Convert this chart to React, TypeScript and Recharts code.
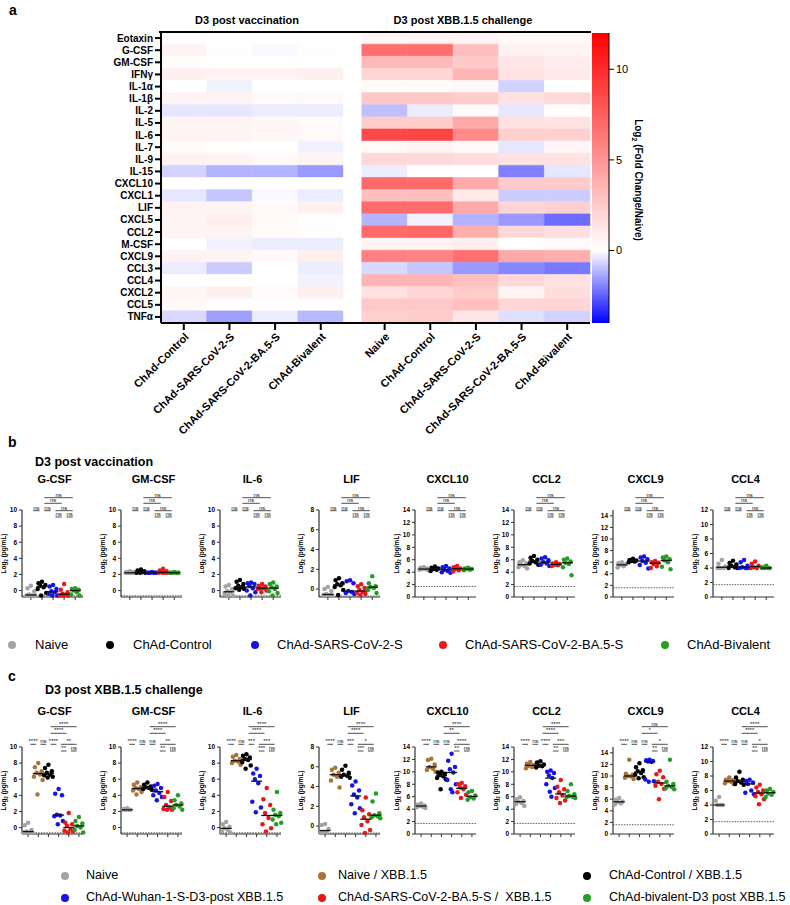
import React from 'react';
import {
  BarChart,
  Bar,
  Cell,
  XAxis,
  YAxis,
  ScatterChart,
  Scatter,
  ReferenceLine,
  ReferenceDot,
} from 'recharts';

const FONT = '"Liberation Sans", Arial, Helvetica, sans-serif';

// ---------- panel a: heatmap ----------
const cytokines = [
  'Eotaxin', 'G-CSF', 'GM-CSF', 'IFNγ', 'IL-1α', 'IL-1β', 'IL-2', 'IL-5', 'IL-6', 'IL-7', 'IL-9', 'IL-15',
  'CXCL10', 'CXCL1', 'LIF', 'CXCL5', 'CCL2', 'M-CSF', 'CXCL9', 'CCL3', 'CCL4', 'CXCL2', 'CCL5', 'TNFα',
];
const vaccGroups = ['ChAd-Control', 'ChAd-SARS-CoV-2-S', 'ChAd-SARS-CoV-2-BA.5-S', 'ChAd-Bivalent'];
const challengeGroups = ['Naive', 'ChAd-Control', 'ChAd-SARS-CoV-2-S', 'ChAd-SARS-CoV-2-BA.5-S', 'ChAd-Bivalent'];

// log2 fold change vs naive, one row per cytokine
const vaccFC = [
  [0.1, 0, 0, 0], [0.6, 0.1, -0.1, 0.1], [0.1, 0, 0, 0], [0.7, 0.6, 0.6, 0.7],
  [0, -0.2, 0, 0], [0.5, 0.5, 0.3, 0.3], [-0.4, -0.4, -0.3, -0.3], [0.5, 0.5, 0.4, 0.3],
  [0.5, 0.5, 0.4, 0.3], [0.2, 0.1, 0, -0.2], [0.6, 0.5, 0.3, 0.5], [-0.7, -1.2, -1.2, -1.6],
  [0, 0, 0, 0], [-0.4, -0.9, -0.1, -0.3], [0.6, 0.5, 0.3, 0.7], [0.5, 0.8, 0.3, 0.1],
  [0.5, 0.5, 0.2, 0.1], [0, -0.2, -0.3, -0.3], [0.6, 0.5, 0.3, 0.8], [-0.3, -0.8, 0, -0.3],
  [0, 0, 0, -0.2], [0.4, 0.7, 0.2, 0.7], [0.3, 0.1, 0.1, 0.1], [-0.6, -1.5, -0.3, -1.1],
];
const challengeFC = [
  [0.4, 0.5, 0.5, 0.3, 0.3], [6.8, 6.8, 3.0, 0.6, 0.6], [3.3, 3.3, 2.5, 1.2, 0.9], [2.0, 2.0, 3.5, 1.3, 1.0],
  [0.2, 0.2, 0.3, -0.7, 0], [2.6, 2.6, 2.4, 1.4, 1.8], [-1.0, -0.3, 0.2, -0.4, 0.1], [2.4, 2.4, 4.0, 1.4, 1.3],
  [8.6, 8.8, 5.5, 2.2, 2.2], [0.3, 0.5, 0.3, -0.4, 0.4], [1.8, 1.8, 1.6, 1.3, 1.3], [-0.3, 0, 0, -2.0, -0.4],
  [7.0, 7.0, 4.0, 2.5, 2.5], [3.0, 3.0, 1.0, -0.8, -0.8], [7.0, 7.0, 4.0, 2.0, 2.2], [-1.2, -0.2, -1.2, -1.6, -2.3],
  [7.0, 7.2, 3.8, 1.8, 1.5], [0.5, 0.6, 0.8, 0.1, 0.3], [6.0, 5.8, 6.8, 4.0, 3.8], [-0.6, -0.9, -1.6, -1.9, -2.1],
  [3.5, 3.5, 3.0, 1.8, 1.4], [1.4, 2.0, 2.4, 0.5, 1.6], [2.6, 2.6, 3.0, 2.0, 2.0], [2.2, 2.4, 1.2, -0.5, -0.7],
];
const scaleMin = -4;
const scaleMax = 12;
const scaleTicks = [0, 5, 10];

// ---------- panel b: D3 post vaccination ----------
const plotTitles = ['G-CSF', 'GM-CSF', 'IL-6', 'LIF', 'CXCL10', 'CCL2', 'CXCL9', 'CCL4'];
const yMaxes = [10, 10, 10, 8, 14, 14, 15, 12];
const yMins = [-0.8, -0.8, -0.8, -0.8, 0, 0, 0, 0];
const detectionLimits = [-0.65, -0.65, -0.65, -0.7, 1.7, 1.7, 1.6, 1.7];

const bGcsf = [
  [0.6, 0.3, -0.1, -0.5, -0.6, -0.6, -0.6, -0.6],
  [1.1, 0.9, 0.7, 0.6, 0.4, 0.2, -0.3, -0.6],
  [0.7, 0.5, 0.2, -0.1, -0.2, -0.4, -0.6, -0.6],
  [0.8, 0.1, -0.2, -0.4, -0.5, -0.6, -0.6, -0.6],
  [0.3, 0.2, 0.1, 0.0, -0.2, -0.5, -0.6],
];
const bGmcsf = [
  [2.4, 2.3, 2.3, 2.2, 2.2, 2.2, 2.2, 2.2],
  [2.6, 2.5, 2.4, 2.3, 2.3, 2.2, 2.2, 2.2],
  [2.3, 2.2, 2.2, 2.2, 2.2, 2.2, 2.2],
  [2.7, 2.5, 2.4, 2.3, 2.2, 2.2, 2.2, 2.2],
  [2.3, 2.2, 2.2, 2.2, 2.2, 2.2, 2.2],
];
const bIl6 = [
  [0.7, 0.5, 0.2, -0.1, -0.2, -0.4, -0.6, -0.6],
  [1.3, 1.1, 0.8, 0.6, 0.4, 0.3, 0.2, 0.1],
  [1.0, 0.9, 0.8, 0.6, 0.3, 0.0, -0.2, -0.6],
  [0.8, 0.6, 0.5, 0.3, 0.3, 0.2, 0.0, -0.2],
  [1.0, 0.8, 0.5, 0.4, 0.2, -0.1, -0.3, -0.6],
];
const bLif = [
  [0.2, 0.0, -0.2, -0.5, -0.6, -0.6, -0.6, -0.6],
  [1.1, 0.9, 0.6, 0.5, 0.4, 0.2, -0.1, -0.6],
  [0.9, 0.8, 0.6, -0.2, -0.3, -0.4, -0.5],
  [0.5, 0.3, 0.1, -0.1, -0.3, -0.4, -0.5, -0.6],
  [1.3, 0.6, 0.3, 0.2, 0.1, -0.1, -0.4],
];
const bCxcl10 = [
  [4.8, 4.7, 4.6, 4.5, 4.5, 4.4, 4.3],
  [4.9, 4.7, 4.6, 4.5, 4.4, 4.2],
  [5.0, 4.8, 4.6, 4.4, 4.2, 4.0, 3.9],
  [5.0, 4.8, 4.6, 4.5, 4.3, 4.1],
  [4.7, 4.6, 4.5, 4.5, 4.4, 4.3],
];
const bCcl2 = [
  [5.9, 5.6, 5.4, 5.2, 5.0, 4.8, 4.6],
  [6.6, 6.3, 6.0, 5.8, 5.6, 5.4, 5.2],
  [6.4, 6.2, 5.9, 5.6, 5.4, 5.2, 5.0],
  [5.6, 5.4, 5.3, 5.2, 5.1, 5.0],
  [6.2, 6.0, 5.7, 5.5, 5.3, 4.8, 3.5],
];
const bCxcl9 = [
  [6.0, 5.8, 5.6, 5.5, 5.3, 5.1],
  [6.6, 6.4, 6.3, 6.2, 6.1, 6.0],
  [7.0, 6.8, 6.5, 6.2, 5.9, 5.5, 4.9],
  [6.2, 6.0, 5.9, 5.7, 5.3, 5.0],
  [7.0, 6.8, 6.5, 6.3, 6.0, 5.2, 4.8],
];
const bCcl4 = [
  [5.1, 4.6, 4.2, 4.0, 4.0, 4.0],
  [5.0, 4.7, 4.5, 4.3, 4.1, 4.0, 4.0],
  [5.1, 4.8, 4.3, 4.1, 4.0, 4.0, 4.0],
  [4.9, 4.6, 4.3, 4.1, 4.0, 4.0],
  [4.3, 4.1, 4.0, 4.0, 4.0, 4.0],
];
const bValues = [bGcsf, bGmcsf, bIl6, bLif, bCxcl10, bCcl2, bCxcl9, bCcl4];
const bPairs = [[1, 2], [2, 3], [3, 4], [4, 5], [3, 5], [2, 4], [2, 5]];
const bSig = ['ns', 'ns', 'ns', 'ns', 'ns', 'ns', 'ns'];
const bLegend = ['Naive', 'ChAd-Control', 'ChAd-SARS-CoV-2-S', 'ChAd-SARS-CoV-2-BA.5-S', 'ChAd-Bivalent'];
const bColors = ['#a3a3a3', '#000000', '#1414e6', '#e81818', '#249e24'];

// ---------- panel c: D3 post XBB.1.5 challenge ----------
const cGcsf = [
  [0.6, 0.3, -0.3, -0.5, -0.6, -0.6, -0.6],
  [8.0, 7.5, 7.0, 6.8, 6.6, 6.3, 5.9, 4.1],
  [7.8, 7.4, 7.0, 6.8, 6.6, 6.5, 6.3, 6.2],
  [4.8, 4.2, 4.0, 1.6, 1.5, 1.4, 0.8, 0.4],
  [1.8, 0.6, 0.4, 0.2, -0.2, -0.4, -0.5, -0.6],
  [1.3, 0.8, 0.5, 0.2, 0.0, -0.3, -0.6],
];
const cGmcsf = [
  [2.4, 2.3, 2.2, 2.2, 2.2, 2.2],
  [5.6, 5.3, 5.0, 4.9, 4.8, 4.6, 4.4, 4.1],
  [5.6, 5.3, 5.1, 5.0, 4.9, 4.8, 4.7],
  [5.4, 5.2, 4.9, 4.6, 4.3, 4.0, 3.8, 3.4],
  [4.4, 3.8, 3.3, 2.8, 2.5, 2.3, 2.2, 2.2],
  [4.0, 3.4, 3.0, 2.8, 2.6, 2.4, 2.2],
];
const cIl6 = [
  [0.7, 0.4, 0.1, -0.1, -0.3, -0.5, -0.6],
  [9.0, 8.8, 8.5, 8.3, 8.2, 8.0, 7.8],
  [9.1, 8.9, 8.7, 8.5, 8.4, 8.1, 7.7, 7.3],
  [7.3, 6.7, 6.4, 6.0, 5.5, 3.2, 2.5, 1.9],
  [4.9, 3.5, 2.8, 1.8, 1.2, 0.4, -0.1, -0.5],
  [4.4, 2.2, 1.8, 1.6, 1.4, 1.0, 0.6, 0.4],
];
const cLif = [
  [0.2, 0.1, -0.3, -0.6, -0.6, -0.6],
  [5.9, 5.7, 5.4, 5.2, 5.0, 4.6, 3.9],
  [6.1, 5.7, 5.4, 5.2, 5.1, 5.0, 4.9],
  [4.5, 4.1, 3.6, 3.2, 2.9, 2.2, 1.8, 1.3],
  [2.9, 1.6, 1.2, 0.9, 0.5, 0.1, -0.4, -0.7],
  [3.3, 2.5, 1.3, 1.1, 1.0, 0.9, 0.8],
];
const cCxcl10 = [
  [4.9, 4.7, 4.6, 4.5, 4.4, 4.3, 4.2],
  [12.1, 11.9, 11.2, 10.8, 10.5, 10.3, 10.0],
  [10.0, 9.9, 9.7, 9.5, 9.3, 9.0, 8.8, 7.2],
  [12.9, 11.8, 10.8, 10.4, 9.9, 8.7, 8.0, 7.2, 6.7],
  [8.2, 8.0, 7.7, 7.5, 7.2, 6.7, 6.3, 5.8],
  [6.9, 6.7, 6.2, 5.9, 5.7, 5.5],
];
const cCcl2 = [
  [5.9, 5.6, 5.3, 5.2, 5.0, 4.8, 4.5],
  [11.6, 11.3, 11.1, 11.0, 10.8, 10.6],
  [11.7, 11.5, 11.2, 11.0, 10.9, 10.7],
  [10.2, 10.0, 9.8, 9.4, 9.0, 8.0, 7.4, 6.8, 6.0],
  [8.7, 7.6, 7.2, 6.7, 6.2, 5.8, 5.4, 5.0],
  [8.0, 6.9, 6.4, 6.1, 6.0, 5.9, 5.8],
];
const cCxcl9 = [
  [6.2, 5.9, 5.6, 5.5, 5.3, 5.1],
  [12.8, 10.4, 10.2, 10.0, 9.9, 9.7, 9.5],
  [12.2, 11.5, 11.0, 10.8, 10.5, 10.2, 9.8, 9.6],
  [12.8, 12.7, 12.6, 12.5, 12.4, 9.4, 9.1, 9.0],
  [10.9, 10.3, 9.8, 9.0, 8.6, 8.3, 7.8, 6.0],
  [12.8, 9.0, 8.6, 8.3, 8.1, 7.9, 7.7],
];
const cCcl4 = [
  [5.1, 4.6, 4.0, 4.0, 4.0],
  [7.8, 7.5, 7.4, 7.3, 7.2, 7.0, 6.9],
  [8.6, 7.8, 7.5, 7.3, 7.1, 6.9, 6.8],
  [7.5, 7.3, 7.1, 6.9, 6.0, 5.7, 5.5],
  [6.8, 6.4, 6.0, 5.8, 5.5, 5.2, 4.8, 4.1],
  [6.2, 6.0, 5.8, 5.6, 5.4, 5.1],
];
const cValues = [cGcsf, cGmcsf, cIl6, cLif, cCxcl10, cCcl2, cCxcl9, cCcl4];
const cPairs = [[1, 2], [2, 3], [3, 4], [4, 5], [5, 6], [4, 6], [3, 5], [3, 6]];
const cSig = [
  ['****', 'ns', '****', '**', 'ns', '**', '****', '****'],
  ['****', 'ns', 'ns', '**', 'ns', '**', '****', '****'],
  ['****', 'ns', '***', '***', 'ns', '***', '****', '****'],
  ['****', 'ns', '***', '***', 'ns', '*', '****', '****'],
  ['****', 'ns', 'ns', '**', 'ns', '****', '**', '****'],
  ['****', 'ns', '****', '**', 'ns', '***', '****', '****'],
  ['****', 'ns', 'ns', '**', 'ns', '*', '*', 'ns'],
  ['****', 'ns', 'ns', '**', 'ns', '*', '****', '****'],
];
const cLegend = [
  'Naive', 'Naive / XBB.1.5', 'ChAd-Control / XBB.1.5',
  'ChAd-Wuhan-1-S-D3-post XBB.1.5', 'ChAd-SARS-CoV-2-BA.5-S /  XBB.1.5', 'ChAd-bivalent-D3 post XBB.1.5',
];
const cColors = ['#a3a3a3', '#a8743c', '#000000', '#1414e6', '#e81818', '#249e24'];

// ---------- layout ----------
const plotAxisX = [22, 121, 220, 319, 415, 514, 613, 713];
const PLOT_H = 87;
const PLOT_W = 61;
const TOP_PAD = 32;
const Y_W = 30;
const bBracketLevels = [0.7, 0.7, 7, 7, 0.7, -6.7, -12.3];
const cBracketLevels = [-2.7, -2.7, -2.7, 4, 4, -2.7, -13.7, -20.3];
const JITTER = [0, -3.4, 3.4, -1.7, 1.7, -4.3, 4.3, -0.8, 0.8];

function fcColor(v: number) {
  if (v >= 0) {
    const t = Math.min(v / scaleMax, 1);
    const g = Math.round(255 * (1 - t));
    return `rgb(255,${g},${g})`;
  }
  const t = Math.min(v / scaleMin, 1);
  const c = Math.round(255 * (1 - t));
  return `rgb(${c},${c},255)`;
}

function median(vals: number[]) {
  const s = [...vals].sort((a, b) => a - b);
  const m = Math.floor(s.length / 2);
  return s.length % 2 ? s[m] : (s[m - 1] + s[m]) / 2;
}

const Txt = ({ x, y, size, bold, center, children }: any) => (
  <div
    style={{
      position: 'absolute',
      left: x,
      top: y - size * 0.6,
      fontSize: size,
      lineHeight: 1.2,
      fontWeight: bold ? 700 : 400,
      whiteSpace: 'pre',
      transform: center ? 'translateX(-50%)' : undefined,
    }}
  >
    {children}
  </div>
);

// heatmap columns: 4 vaccination groups, a narrow blank, 5 challenge groups
const heatCols = [
  ...vaccGroups.map((label, j) => ({ key: `v${j}`, w: 1, label, value: (r: number) => vaccFC[r][j] })),
  { key: 'gap', w: 0.4, label: '', value: null as any },
  ...challengeGroups.map((label, j) => ({ key: `c${j}`, w: 1, label, value: (r: number) => challengeFC[r][j] })),
];
const heatRows = cytokines.map((name) => {
  const row: any = { name };
  heatCols.forEach((c) => (row[c.key] = c.w));
  return row;
});
const heatTotal = heatCols.reduce((s, c) => s + c.w, 0);
const tickCols = heatCols.filter((c) => c.value);
const heatTicks = tickCols.map((c) => {
  let start = 0;
  for (const k of heatCols) {
    if (k === c) break;
    start += k.w;
  }
  return start + c.w / 2;
});

function Heatmap() {
  return (
    <div style={{ position: 'absolute', left: 0, top: 0 }}>
      <BarChart
        width={600}
        height={460}
        data={heatRows}
        layout="vertical"
        barCategoryGap={0}
        barGap={0}
        margin={{ top: 32, right: 10, bottom: 0, left: 0 }}
      >
        <XAxis
          type="number"
          domain={[0, heatTotal]}
          ticks={heatTicks}
          tickFormatter={(_v: any, i: number) => tickCols[i].label}
          interval={0}
          height={137}
          angle={-45}
          textAnchor="end"
          tickSize={7}
          axisLine={{ stroke: '#000', strokeWidth: 2 }}
          tickLine={{ stroke: '#000', strokeWidth: 2 }}
          tick={{ fontSize: 11, fontWeight: 700, fill: '#000' }}
        />
        <YAxis
          type="category"
          dataKey="name"
          width={161}
          interval={0}
          tickSize={6}
          axisLine={{ stroke: '#000', strokeWidth: 2 }}
          tickLine={{ stroke: '#000', strokeWidth: 2 }}
          tick={{ fontSize: 10, fontWeight: 700, fill: '#000' }}
        />
        {heatCols.map((c) => (
          <Bar key={c.key} dataKey={c.key} stackId="h" isAnimationActive={false}>
            {heatRows.map((_r, ri) => {
              const fill = c.value ? fcColor(c.value(ri)) : '#ffffff';
              return <Cell key={ri} fill={fill} stroke={fill} strokeWidth={0.6} />;
            })}
          </Bar>
        ))}
      </BarChart>
    </div>
  );
}

function ColorScale() {
  const zeroPct = ((scaleMax - 0) / (scaleMax - scaleMin)) * 100;
  return (
    <div style={{ position: 'absolute', left: 592, top: 0 }}>
      <BarChart
        width={47}
        height={323}
        data={[{ name: 'scale', span: [scaleMin, scaleMax] }]}
        barCategoryGap={0}
        margin={{ top: 33, right: 0, bottom: 0, left: 0 }}
      >
        <defs>
          <linearGradient id="fcGrad" x1="0" y1="0" x2="0" y2="1">
            <stop offset="0%" stopColor="#ff0000" />
            <stop offset={`${zeroPct}%`} stopColor="#ffffff" />
            <stop offset="100%" stopColor="#0000ff" />
          </linearGradient>
        </defs>
        <XAxis dataKey="name" hide />
        <YAxis
          orientation="right"
          domain={[scaleMin, scaleMax]}
          ticks={scaleTicks}
          width={30}
          tickSize={5}
          allowDataOverflow
          axisLine={{ stroke: '#000' }}
          tickLine={{ stroke: '#000' }}
          tick={{ fontSize: 11, fill: '#000' }}
        />
        <Bar dataKey="span" fill="url(#fcGrad)" isAnimationActive={false} />
      </BarChart>
    </div>
  );
}

const Log2Label = (props: any) => {
  const vb = props.viewBox || {};
  const x = (vb.x ?? 0) + 14;
  const y = (vb.y ?? 0) + (vb.height ?? PLOT_H) / 2;
  return (
    <text
      x={x}
      y={y}
      transform={`rotate(-90 ${x} ${y})`}
      textAnchor="middle"
      fontSize={6.5}
      fontWeight={700}
      fill="#000"
    >
      Log
      <tspan fontSize={4.5} dy={1.8}>2</tspan>
      <tspan dy={-1.8}> (pg/mL)</tspan>
    </text>
  );
};

function DotPlot({ idx, values, colors, pairs, levels, sig, plotTop, titleGap }: any) {
  const n = values.length;
  const yMin = yMins[idx];
  const yMax = yMaxes[idx];
  const perPx = (yMax - yMin) / PLOT_H;
  const yTicks: number[] = [];
  for (let t = 0; t <= yMax; t += 2) yTicks.push(t);
  const xDomain = n === 5 ? [0.2, 5.7] : [0.4, 6.4];
  const xTicks = values.map((_: any, g: number) => g + 1);
  const medians = values.map((vals: number[], g: number) => ({ x: g + 1, y: median(vals) }));
  const axisX = plotAxisX[idx];

  return (
    <>
      <Txt x={axisX + PLOT_W / 2 + 2} y={plotTop - titleGap} size={11} bold center>
        {plotTitles[idx]}
      </Txt>
      <div style={{ position: 'absolute', left: axisX - Y_W, top: plotTop - TOP_PAD }}>
        <ScatterChart
          width={Y_W + PLOT_W + 4}
          height={TOP_PAD + PLOT_H + 10}
          margin={{ top: TOP_PAD, right: 4, bottom: 4, left: 0 }}
        >
          <XAxis
            type="number"
            dataKey="x"
            domain={xDomain}
            ticks={xTicks}
            interval={0}
            tickFormatter={() => ''}
            tickSize={3}
            height={6}
            axisLine={{ stroke: '#333', strokeWidth: 1.2 }}
            tickLine={{ stroke: '#333', strokeWidth: 1 }}
          />
          <YAxis
            type="number"
            dataKey="y"
            domain={[yMin, yMax]}
            ticks={yTicks}
            interval={0}
            width={Y_W}
            tickSize={3}
            axisLine={{ stroke: '#333', strokeWidth: 1.2 }}
            tickLine={{ stroke: '#333', strokeWidth: 1 }}
            tick={{ fontSize: 6.5, fontWeight: 700, fill: '#000' }}
            label={Log2Label}
          />
          <ReferenceLine
            y={detectionLimits[idx]}
            stroke="#333"
            strokeWidth={0.8}
            strokeDasharray="1.5 1.2"
          />
          {values.map((vals: number[], g: number) => (
            <Scatter
              key={`g${g}`}
              data={vals.map((v, k) => ({ x: g + 1, y: v, k }))}
              isAnimationActive={false}
              shape={(p: any) => (
                <circle
                  cx={p.cx + JITTER[(p.payload?.k ?? 0) % JITTER.length]}
                  cy={p.cy}
                  r={2.25}
                  fill={colors[g]}
                />
              )}
            />
          ))}
          <Scatter
            data={medians}
            isAnimationActive={false}
            shape={(p: any) => (
              <line x1={p.cx - 5.5} x2={p.cx + 5.5} y1={p.cy} y2={p.cy} stroke="#111" strokeWidth={1.3} />
            )}
          />
          {pairs.map(([a, b]: number[], i: number) => {
            const y = yMax - levels[i] * perPx;
            return (
              <ReferenceLine
                key={`bl${i}`}
                segment={[{ x: a + 0.22, y }, { x: b - 0.22, y }]}
                ifOverflow="visible"
                stroke="#222"
                strokeWidth={0.8}
              />
            );
          })}
          {pairs.map(([a, b]: number[], i: number) => {
            const y = yMax - levels[i] * perPx;
            return (
              <ReferenceDot
                key={`bt${i}`}
                x={(a + b) / 2}
                y={y}
                ifOverflow="visible"
                shape={(p: any) => (
                  <text x={p.cx} y={p.cy - 1.2} textAnchor="middle" fontSize={6} fill="#111">
                    {sig[i]}
                  </text>
                )}
              />
            );
          })}
        </ScatterChart>
      </div>
    </>
  );
}

const LegendItem = ({ x, textX, y, color, label, size }: any) => (
  <>
    <div
      style={{
        position: 'absolute',
        left: x - 4,
        top: y - 4,
        width: 8,
        height: 8,
        borderRadius: 4,
        background: color,
      }}
    />
    <Txt x={textX} y={y} size={size}>
      {label}
    </Txt>
  </>
);

export default function App() {
  const bLegendX = [12, 110, 255, 443, 665];
  const bLegendTextX = [35, 133, 277, 465, 687];
  const cLegendX = [65, 322, 587];
  const cLegendTextX = [86, 338, 609];
  return (
    <div
      style={{
        position: 'absolute',
        left: 0,
        top: 0,
        width: 790,
        height: 905,
        background: '#fff',
        color: '#000',
        fontFamily: FONT,
        overflow: 'hidden',
      }}
    >
      <Txt x={9} y={10} size={14} bold>a</Txt>
      <Txt x={247} y={21} size={11} bold center>D3 post vaccination</Txt>
      <Txt x={463} y={21} size={11} bold center>D3 post XBB.1.5 challenge</Txt>
      <Heatmap />
      <div style={{ position: 'absolute', left: 159, top: 31, width: 432, height: 2, background: '#000' }} />
      <ColorScale />
      <div
        style={{
          position: 'absolute',
          left: 637,
          top: 180,
          fontSize: 10,
          fontWeight: 700,
          whiteSpace: 'nowrap',
          transform: 'translate(-50%, -50%) rotate(90deg)',
        }}
      >
        Log<sub style={{ fontSize: 7 }}>2</sub> (Fold Change/Naive)
      </div>

      <Txt x={8} y={442} size={14} bold>b</Txt>
      <Txt x={35} y={462} size={12.5} bold>D3 post vaccination</Txt>
      {bValues.map((vals, i) => (
        <DotPlot
          key={`b${i}`}
          idx={i}
          values={vals}
          colors={bColors}
          pairs={bPairs}
          levels={bBracketLevels}
          sig={bSig}
          plotTop={510}
          titleGap={30}
        />
      ))}
      {bLegend.map((label, i) => (
        <LegendItem
          key={label}
          x={bLegendX[i]}
          textX={bLegendTextX[i]}
          y={645}
          color={bColors[i]}
          label={label}
          size={13}
        />
      ))}

      <Txt x={8} y={676} size={14} bold>c</Txt>
      <Txt x={45} y={690} size={12.5} bold>D3 post XBB.1.5 challenge</Txt>
      {cValues.map((vals, i) => (
        <DotPlot
          key={`c${i}`}
          idx={i}
          values={vals}
          colors={cColors}
          pairs={cPairs}
          levels={cBracketLevels}
          sig={cSig[i]}
          plotTop={747}
          titleGap={35}
        />
      ))}
      {cLegend.map((label, i) => (
        <LegendItem
          key={label}
          x={cLegendX[i % 3]}
          textX={cLegendTextX[i % 3]}
          y={i < 3 ? 876 : 898}
          color={cColors[i]}
          label={label}
          size={12.6}
        />
      ))}
    </div>
  );
}
